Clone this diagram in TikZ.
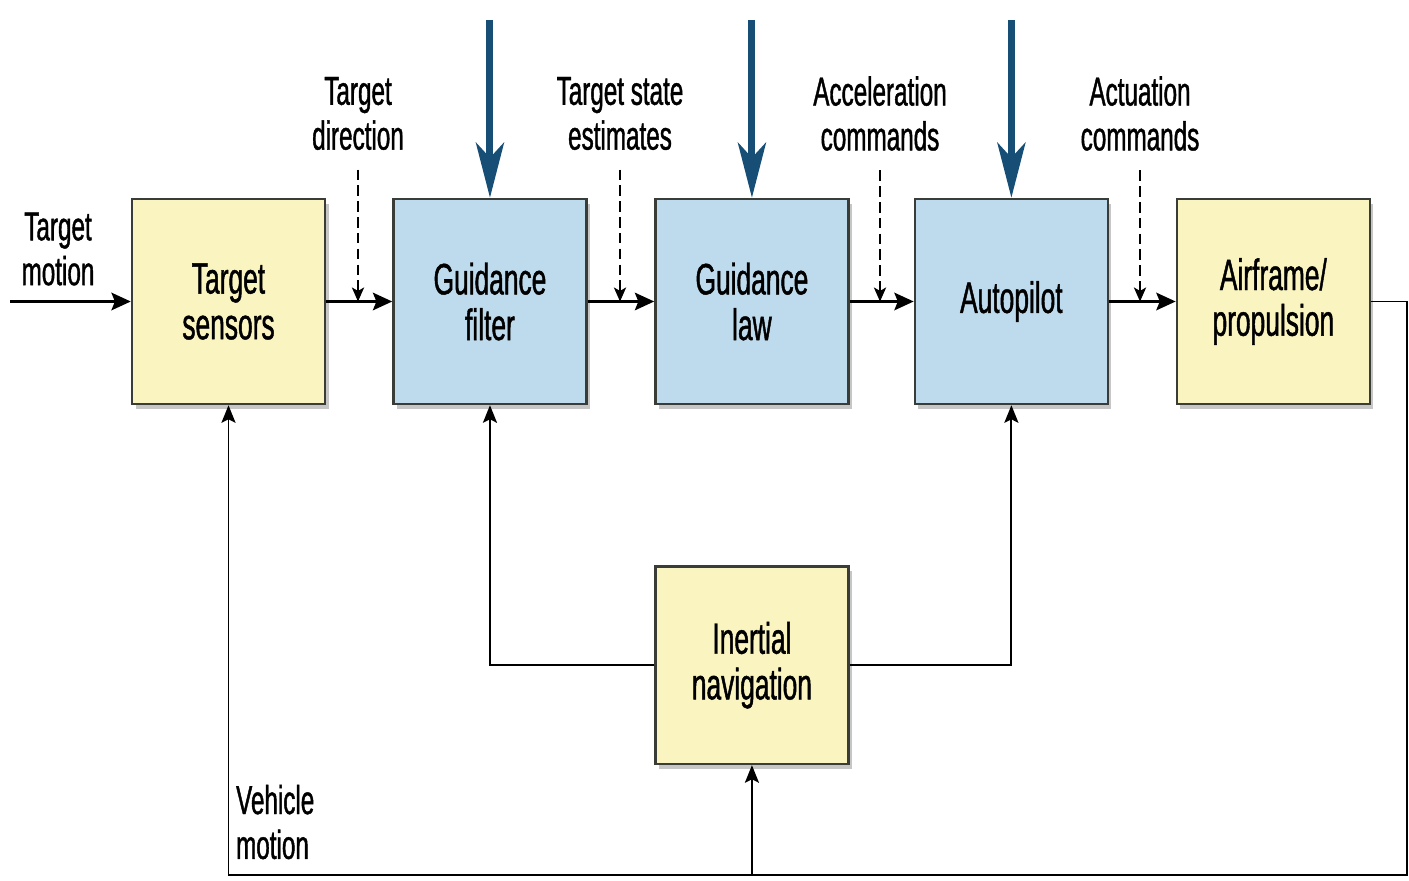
\documentclass[tikz,border=0pt]{standalone}
\usepackage{fontspec}
\setmainfont[FakeStretch=0.6, FakeBold=1]{Liberation Sans}
\usetikzlibrary{arrows.meta, positioning, shadows}
\definecolor{colSensor}{RGB}{250,245,192}
\definecolor{colGuide}{RGB}{190,219,238}
\definecolor{colInput}{RGB}{22,78,118}
\definecolor{colEdge}{RGB}{58,60,55}

\begin{document}
\begin{tikzpicture}[
  node distance=3.2cm and 1.33cm,
  block/.style={rectangle, draw=colEdge, line width=1.4pt, minimum width=3.86cm,
                minimum height=4.1cm, font=\fontsize{25}{26}\selectfont, align=center,
                drop shadow={shadow xshift=0.07cm, shadow yshift=-0.1cm, opacity=0.45}},
  sensor/.style={block, fill=colSensor},
  guide/.style={block, fill=colGuide},
  lbl/.style={font=\fontsize{23}{25.5}\selectfont, align=center, inner sep=1pt},
  arr/.style={-{Stealth[length=11pt, width=10pt, inset=2pt]}, line width=1.4pt},
  fbarr/.style={-{Stealth[length=10pt, width=8pt, inset=2pt]}, line width=1.1pt},
  dasharr/.style={-{Stealth[length=8pt, width=7pt, inset=2pt]}, line width=0.8pt,
                  dash pattern=on 6pt off 3pt},
  inarr/.style={-{Stealth[length=1.1cm, width=0.56cm, inset=0.3cm]}, line width=4pt, colInput},
]
\useasboundingbox (0,0) rectangle (28.18,17.6);

% Forward chain
\node[sensor] (tsens) at (4.57,11.57) {Target\\sensors};
\node[guide, right=1.32cm of tsens] (gfilt) {Guidance\\filter};
\node[guide, right=of gfilt] (glaw) {Guidance\\law};
\node[guide, right=1.28cm of glaw] (apilot) {Autopilot};
\node[sensor, right=1.33cm of apilot] (airfr) {Airframe/\\propulsion};

% Navigation
\node[sensor, minimum height=3.95cm, below=of glaw] (inav) {Inertial\\navigation};

% Signal labels
\node[lbl] (ltmot) at (1.16,12.62) {Target\\motion};
\node[lbl] (ltdir) at (7.16,15.33) {Target\\direction};
\node[lbl] (ltest) at (12.4,15.33) {Target state\\estimates};
\node[lbl] (lacc) at (17.6,15.33) {Acceleration\\commands};
\node[lbl] (lact) at (22.8,15.33) {Actuation\\commands};
\node[lbl, align=left, anchor=west] (lvmot) at (4.68,1.16) {Vehicle\\motion};

% Free ends
\coordinate (tin) at (0.2,11.57);
\coordinate (ufilt) at ([yshift=3.56cm]gfilt.north);
\coordinate (ulaw) at ([yshift=3.56cm]glaw.north);
\coordinate (upilot) at ([yshift=3.56cm]apilot.north);
\coordinate (fbr) at (28.14,0.1);

% Arrows: forward path
\draw[arr] (tin) -- (tsens);
\draw[arr] (tsens) -- (gfilt);
\draw[arr] (gfilt) -- (glaw);
\draw[arr] (glaw) -- (apilot);
\draw[arr] (apilot) -- (airfr);

% Arrows: dashed signal markers
\draw[dasharr] ([yshift=-0.35cm]ltdir.south) -- (ltdir.south |- tsens.east);
\draw[dasharr] ([yshift=-0.35cm]ltest.south) -- (ltest.south |- gfilt.east);
\draw[dasharr] ([yshift=-0.35cm]lacc.south) -- (lacc.south |- glaw.east);
\draw[dasharr] ([yshift=-0.35cm]lact.south) -- (lact.south |- apilot.east);

% Arrows: external inputs
\draw[inarr] (ufilt) -- (gfilt.north);
\draw[inarr] (ulaw) -- (glaw.north);
\draw[inarr] (upilot) -- (apilot.north);

% Arrows: navigation
\draw[fbarr] (inav.west) -| (gfilt.south);
\draw[fbarr] (inav.east) -| (apilot.south);

% Arrows: vehicle motion feedback
\draw[fbarr] (airfr.east) -| (fbr) -| (tsens.south);
\draw[fbarr] (inav.south |- fbr) -- (inav.south);

\end{tikzpicture}
\end{document}
